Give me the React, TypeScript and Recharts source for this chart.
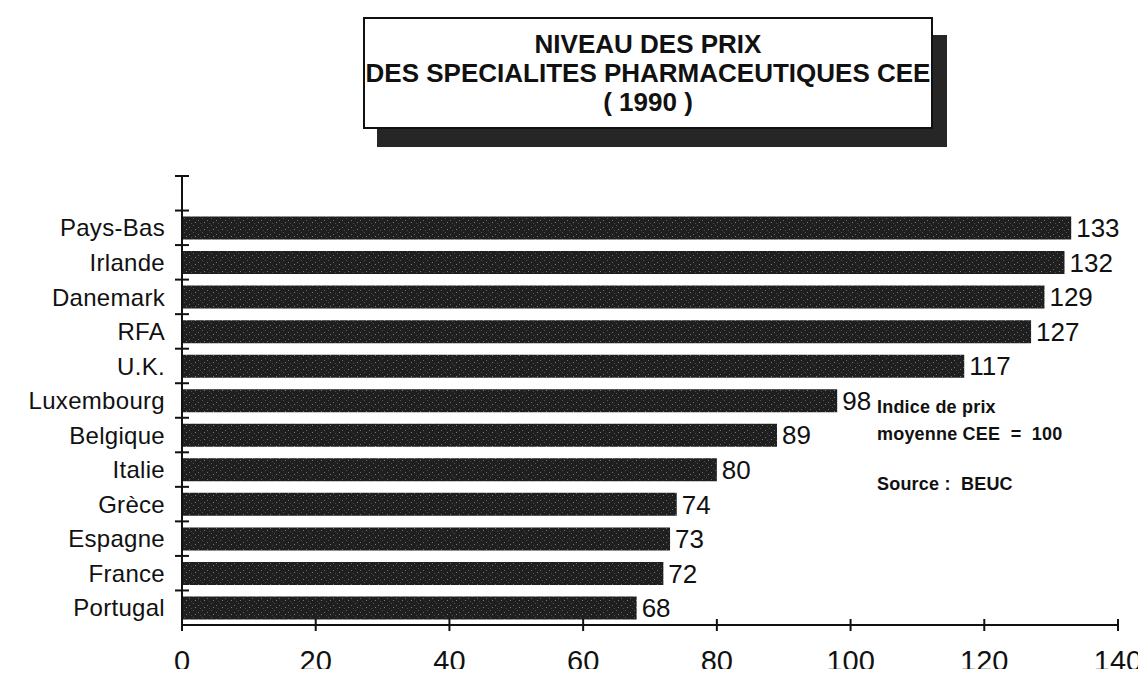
import { BarChart, Bar, XAxis, YAxis, LabelList } from "recharts";

const countries = [
  "Pays-Bas",
  "Irlande",
  "Danemark",
  "RFA",
  "U.K.",
  "Luxembourg",
  "Belgique",
  "Italie",
  "Grèce",
  "Espagne",
  "France",
  "Portugal",
];

const priceIndex = [133, 132, 129, 127, 117, 98, 89, 80, 74, 73, 72, 68];

const xTicks = [0, 20, 40, 60, 80, 100, 120, 140];

const titleLines = [
  "NIVEAU DES PRIX",
  "DES SPECIALITES PHARMACEUTIQUES CEE",
  "( 1990 )",
];

const noteLines = ["Indice de prix", "moyenne CEE  =  100"];
const sourceLine = "Source :  BEUC";

// empty slot on top, the original axis starts one band above the first bar
const data = [
  { name: "", value: null as number | null },
  ...countries.map((name, i) => ({ name, value: priceIndex[i] })),
];

const FONT = "'Liberation Sans', Arial, Helvetica, sans-serif";

type TickProps = {
  x?: number;
  y?: number;
  payload?: { value: string | number; offset?: number };
};

const CountryTick = ({ x = 0, y = 0, payload }: TickProps) => {
  const half = payload?.offset ?? 17.27;
  return (
    <g>
      <line x1={x - 7} x2={x + 7} y1={y - half} y2={y - half} stroke="#111" strokeWidth={2} />
      <text
        x={x - 17}
        y={y}
        dy="0.36em"
        textAnchor="end"
        fontFamily={FONT}
        fontSize={24}
        letterSpacing={0.3}
        fill="#111"
      >
        {payload?.value}
      </text>
    </g>
  );
};

const ValueTick = ({ x = 0, y = 0, payload }: TickProps) => (
  <g>
    <line x1={x} x2={x} y1={y - 6} y2={y + 6} stroke="#111" strokeWidth={2} />
    <text
      x={x}
      y={y + 36}
      dy="0.36em"
      textAnchor="middle"
      fontFamily={FONT}
      fontSize={29}
      fill="#111"
    >
      {payload?.value}
    </text>
  </g>
);

export default function App() {
  return (
    <div style={{ position: "relative", width: 1130, height: 661, background: "#fff" }}>

      <div
        style={{
          position: "absolute",
          left: 355,
          top: 9,
          width: 566,
          height: 108,
          border: "2px solid #111",
          background: "#fff",
          boxShadow: "14px 18px 0 #262626",
          display: "flex",
          flexDirection: "column",
          justifyContent: "center",
          alignItems: "center",
          fontFamily: FONT,
          fontWeight: 700,
          fontSize: 26,
          lineHeight: "29px",
          color: "#111",
          whiteSpace: "nowrap",
          zIndex: 2,
        }}
      >
        {titleLines.map((t) => (
          <div key={t}>{t}</div>
        ))}
      </div>

      <BarChart
        width={1138}
        height={669}
        data={data}
        layout="vertical"
        margin={{ top: 168, right: 28, bottom: 0, left: 0 }}
        barSize={23}
      >
        <defs>
          <pattern id="grain" width="9" height="7" patternUnits="userSpaceOnUse">
            <rect width="9" height="7" fill="#1f1f1f" />
            <rect x="1" y="2" width="1" height="1" fill="#6a6a6a" />
            <rect x="5" y="0" width="1" height="1" fill="#555" />
            <rect x="7" y="4" width="1" height="1" fill="#7a7a7a" />
            <rect x="3" y="5" width="1" height="1" fill="#4a4a4a" />
          </pattern>
        </defs>

        <XAxis
          type="number"
          domain={[0, 140]}
          ticks={xTicks}
          height={52}
          axisLine={{ stroke: "#111", strokeWidth: 2 }}
          tickLine={false}
          tickSize={0}
          tickMargin={0}
          tick={<ValueTick />}
          interval={0}
        />

        <YAxis
          type="category"
          dataKey="name"
          width={174}
          axisLine={{ stroke: "#111", strokeWidth: 2 }}
          tickLine={false}
          tickSize={0}
          tickMargin={0}
          tick={<CountryTick />}
          interval={0}
        />

        <Bar dataKey="value" fill="url(#grain)" isAnimationActive={false}>
          <LabelList
            dataKey="value"
            position="right"
            offset={5}
            fontFamily={FONT}
            fontSize={26}
            fill="#111"
          />
        </Bar>
      </BarChart>

      <div
        style={{
          position: "absolute",
          left: 869,
          top: 386,
          fontFamily: FONT,
          fontWeight: 700,
          fontSize: 18,
          lineHeight: "27px",
          letterSpacing: 0.2,
          color: "#111",
          whiteSpace: "pre",
        }}
      >
        {noteLines.map((t) => (
          <div key={t}>{t}</div>
        ))}
        <div style={{ marginTop: 23 }}>{sourceLine}</div>
      </div>

    </div>
  );
}
